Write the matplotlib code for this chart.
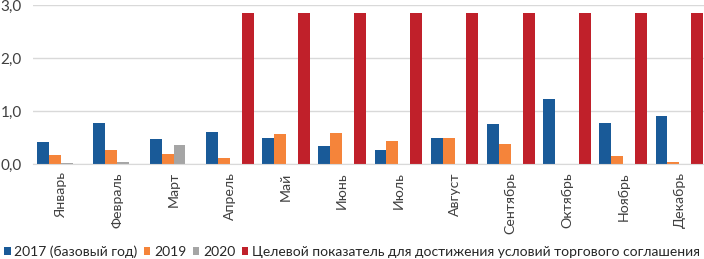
import matplotlib
matplotlib.use("Agg")
import matplotlib.pyplot as plt
import numpy as np
from matplotlib.ticker import FuncFormatter

months = ["Январь", "Февраль", "Март", "Апрель", "Май", "Июнь", "Июль",
          "Август", "Сентябрь", "Октябрь", "Ноябрь", "Декабрь"]
s2017 = [0.42, 0.78, 0.47, 0.60, 0.49, 0.34, 0.26, 0.50, 0.76, 1.23, 0.77, 0.91]
s2019 = [0.165, 0.27, 0.19, 0.12, 0.56, 0.59, 0.44, 0.50, 0.38, 0.0, 0.16, 0.03]
s2020 = [0.02, 0.03, 0.35, 0, 0, 0, 0, 0, 0, 0, 0, 0]
target = [0, 0, 0, 2.85, 2.85, 2.85, 2.85, 2.85, 2.85, 2.85, 2.85, 2.85]
labels = ["2017 (базовый год)", "2019", "2020",
          "Целевой показатель для достижения условий торгового соглашения"]
colors = ["#195a98", "#f5843a", "#a5a5a5", "#c0202a"]

plt.rcParams['font.family'] = ['Lato', 'DejaVu Sans']

fig = plt.figure(figsize=(7.04, 2.59), dpi=100)
ax = fig.add_axes([33/704, 95/259, 1 - 33/704 + 0.005, 159/259])

x = np.arange(len(months))
w = 0.212
for i, (vals, c, lab) in enumerate(zip([s2017, s2019, s2020, target], colors, labels)):
    ax.bar(x + (i - 1.5) * w, vals, width=w, color=c, label=lab, zorder=3)

ax.set_ylim(0, 3.0)
ax.set_xlim(-0.5, 11.5)
ax.set_yticks([0, 1, 2, 3])
ax.yaxis.set_major_formatter(FuncFormatter(lambda v, p: f"{v:.1f}".replace(".", ",")))
ax.grid(axis='y', color='#d9d9d9', linewidth=1, zorder=0)
ax.set_xticks(x)
ax.set_xticklabels(months, rotation=90, fontsize=10.2, color='#404040')
ax.tick_params(axis='y', labelsize=11, colors='#404040', length=0, pad=8)
ax.tick_params(axis='x', length=0, pad=6)
for s in ['top', 'right', 'left']:
    ax.spines[s].set_visible(False)
ax.spines['bottom'].set_color('#d9d9d9')
ax.spines['bottom'].set_zorder(4)

fig.legend(loc='lower center', bbox_to_anchor=(0.5, -0.045), ncol=4, frameon=False,
           fontsize=10, handlelength=0.45, handleheight=0.45, handletextpad=0.25,
           columnspacing=0.5, labelcolor='#262626')

fig.savefig("out.png", dpi=100)
